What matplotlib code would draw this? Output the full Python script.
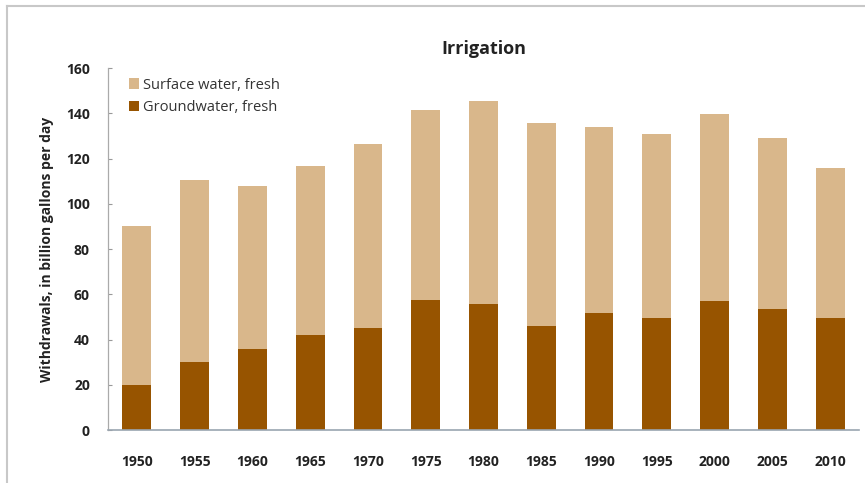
import matplotlib
matplotlib.use("Agg")
import matplotlib.pyplot as plt
import numpy as np
from matplotlib.lines import Line2D

years = ["1950", "1955", "1960", "1965", "1970", "1975", "1980",
         "1985", "1990", "1995", "2000", "2005", "2010"]
groundwater = [20, 30, 36, 42, 45, 57.5, 55.5, 46, 51.5, 49.5, 57, 53.5, 49.5]
surface = [70, 80.5, 72, 74.5, 81.5, 84, 90, 89.5, 82.5, 81.5, 82.5, 75.5, 66.5]
yticks = [0, 20, 40, 60, 80, 100, 120, 140, 160]

SURF_COLOR = "#D9B78B"
GROUND_COLOR = "#975400"
TEXT_COLOR = "#222222"

plt.rcParams["font.family"] = ["Open Sans", "DejaVu Sans"]

fig = plt.figure(figsize=(8.65, 4.83), dpi=100)
ax = fig.add_axes([0.1249, 0.1097, 0.993 - 0.1249, 0.8592 - 0.1097])

x = np.arange(len(years))
ax.bar(x, groundwater, width=0.5, color=GROUND_COLOR, label="Groundwater, fresh")
ax.bar(x, surface, width=0.5, bottom=groundwater, color=SURF_COLOR, label="Surface water, fresh")

ax.set_xlim(-0.5, 12.5)
ax.set_ylim(0, 160)
ax.set_yticks(yticks)
ax.set_xticks(x)
ax.set_xticklabels(years)

for lab in ax.get_xticklabels() + ax.get_yticklabels():
    lab.set_fontweight("bold")
    lab.set_fontsize(10)
    lab.set_color(TEXT_COLOR)

ax.tick_params(axis="x", length=0, pad=18)
ax.tick_params(axis="y", direction="in", length=3, width=0.8, color="#999999", pad=13)

for side in ["top", "right"]:
    ax.spines[side].set_visible(False)
ax.spines["left"].set_color("#aaaaaa")
ax.spines["bottom"].set_color("#9aa5b0")
ax.spines["left"].set_linewidth(0.9)
ax.spines["bottom"].set_linewidth(1.2)

ax.set_ylabel("Withdrawals, in billion gallons per day", fontsize=10,
              fontweight="bold", color=TEXT_COLOR, labelpad=9)
ax.set_title("Irrigation", fontsize=13, fontweight="bold", color=TEXT_COLOR, pad=10)

handles, labels = ax.get_legend_handles_labels()
ax.legend(handles[::-1], labels[::-1], loc="upper left", bbox_to_anchor=(0.01, 1.01),
          frameon=False, fontsize=10.5, handlelength=0.7, handleheight=0.7,
          handletextpad=0.3, labelspacing=0.5, labelcolor="#333333")

# outer frame like the screenshot border
fig.add_artist(Line2D([0.008, 0.008], [0, 0.988], transform=fig.transFigure,
                      color="#c8c8c8", linewidth=1.5))
fig.add_artist(Line2D([0.008, 1.0], [0.988, 0.988], transform=fig.transFigure,
                      color="#c8c8c8", linewidth=1.5))

fig.savefig("out.png", dpi=100)
